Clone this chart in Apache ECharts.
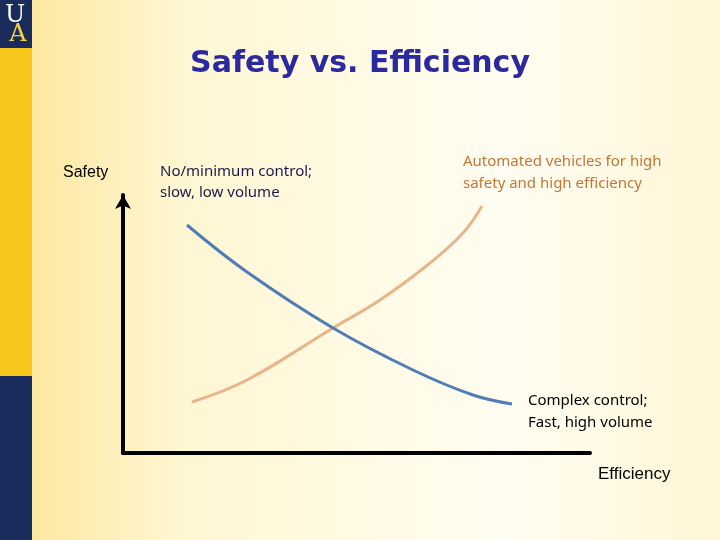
<!doctype html>
<html>
<head>
<meta charset="UTF-8">
<script src="https://cdn.jsdelivr.net/npm/echarts@6/dist/echarts.min.js"></script>
<style>html,body{margin:0;padding:0;} #main{width:720px;height:540px;}</style>
</head>
<body>
<div id="main"></div>
<script>
// 示意曲线数据（坐标单位：效率 / 安全）
var blueCurve = [[64,228],[124,181],[210,125],[290,83],[350,58],[389,49]];
var orangeCurve = [[69,51],[124,73],[210,125],[257,153],[307,190],[340,220],[359,247]];

var myChart = echarts.init(document.getElementById('main'));
var option = {
    animation: false,
    graphic: [
        {type:'rect', shape:{x:0,y:0,width:720,height:540}, z:-10,
         style:{fill:{type:'linear',x:0,y:0,x2:1,y2:0,colorStops:[
            {offset:0,color:'#FCE596'},{offset:0.25,color:'#FFF6D2'},{offset:0.7,color:'#FFFDF2'},{offset:1,color:'#FFF6D6'}]}}},
        {type:'rect', shape:{x:0,y:0,width:32,height:376}, style:{fill:'#F7C61A'}},
        {type:'rect', shape:{x:0,y:376,width:32,height:164}, style:{fill:'#1A2C5C'}},
        {type:'rect', shape:{x:0,y:0,width:32,height:48}, style:{fill:'#1A2C5C'}},
        {type:'text', x:15, y:16, style:{text:'U', font:'24px "DejaVu Serif"', fill:'#FFFFFF', textAlign:'center', textVerticalAlign:'middle'}},
        {type:'text', x:18, y:35, style:{text:'A', font:'24px "DejaVu Serif"', fill:'#F7D23A', textAlign:'center', textVerticalAlign:'middle'}},
        {type:'text', x:360, y:64, style:{text:'Safety vs. Efficiency', font:'bold 30px "DejaVu Sans"', fill:'#2A2A9E', textAlign:'center', textVerticalAlign:'middle'}},
        {type:'text', x:63, y:165, style:{text:'Safety', font:'16px "Liberation Sans"', fill:'#000'}},
        {type:'text', x:160, y:161, style:{text:'No/minimum control;\nslow, low volume', font:'15px "Noto Sans"', lineHeight:21, fill:'#1A1A4A'}},
        {type:'text', x:463, y:151, style:{text:'Automated vehicles for high\nsafety and high efficiency', font:'15px "Noto Sans"', lineHeight:22, fill:'#C0773A'}},
        {type:'text', x:528, y:390, style:{text:'Complex control;\nFast, high volume', font:'15px "Noto Sans"', lineHeight:22, fill:'#000'}},
        {type:'text', x:598, y:466, style:{text:'Efficiency', font:'17px "Liberation Sans"', fill:'#000'}}
    ],
    grid: {left:123, right:130, top:195, bottom:87},
    xAxis: {type:'value', min:0, max:467, axisLine:{lineStyle:{color:'#000',width:4}}, axisTick:{show:false}, axisLabel:{show:false}, splitLine:{show:false}},
    yAxis: {type:'value', min:0, max:258, axisLine:{show:true, symbol:['none','arrow'], symbolSize:[12,14], lineStyle:{color:'#000',width:4}}, axisTick:{show:false}, axisLabel:{show:false}, splitLine:{show:false}},
    series: [
        {type:'line', data:orangeCurve, smooth:0.4, symbol:'none', lineStyle:{color:'#E8B48A',width:3}},
        {type:'line', data:blueCurve, smooth:0.4, symbol:'none', lineStyle:{color:'#4F7DB5',width:3}}
    ]
};
myChart.setOption(option);
</script>
</body>
</html>
